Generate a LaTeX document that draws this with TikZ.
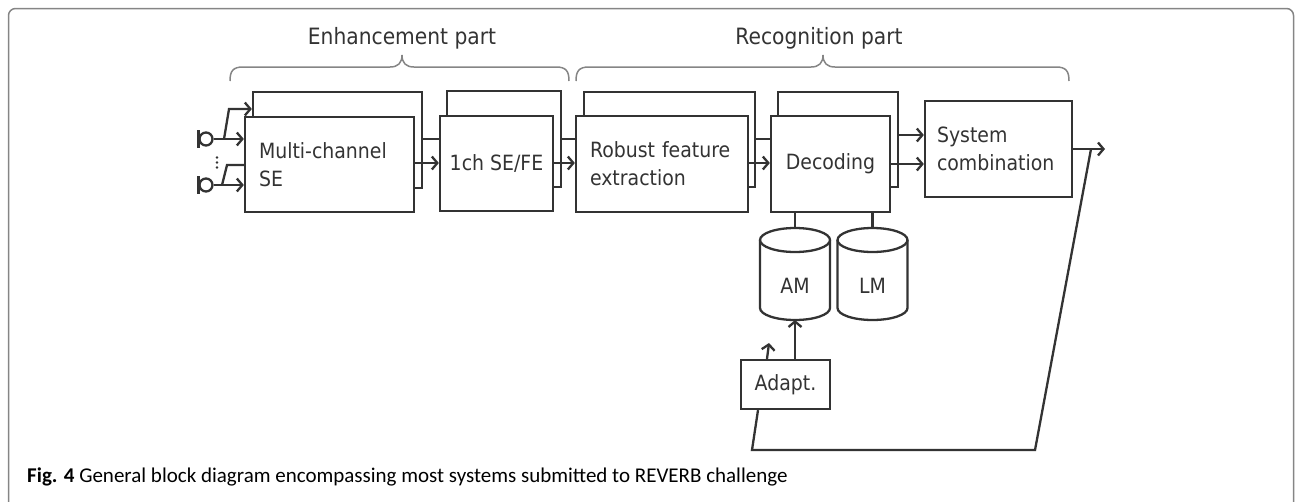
\documentclass[tikz,border=0pt]{standalone}
\usepackage{fontspec}
\setmainfont{Carlito}
\newfontfamily\dvs[FakeStretch=0.9]{DejaVu Sans}
\usetikzlibrary{arrows.meta}
\definecolor{ink}{HTML}{333333}
\definecolor{framegray}{HTML}{858585}
\begin{document}
\begin{tikzpicture}[x=1pt,y=-1pt,
  conn/.style={draw=ink, line width=2.3pt},
  arr/.style={conn, -{Straight Barb[length=5.5pt,width=13pt]}},
  blk/.style={draw=ink, line width=2.3pt, fill=white, rectangle, inner ysep=0pt, inner xsep=14pt,
    font=\dvs\fontsize{21}{28}\selectfont, text=ink},
  lbl/.style={font=\dvs\fontsize{21}{28}\selectfont, text=ink, inner sep=0pt},
  hdr/.style={font=\dvs\fontsize{22.5}{28}\selectfont, text=ink, inner sep=0pt},
  bracepath/.style={draw=framegray, line width=1.5pt},
  micro/.style={circle, draw=ink, line width=2.3pt, minimum size=13pt, inner sep=0pt}]
\useasboundingbox (0,0) rectangle (1295,501);
\clip (0,0) rectangle (1295,501);
% frame
\draw[framegray, line width=1.5pt, rounded corners=7pt] (8.5,520) -- (8.5,8.5) -- (1293.5,8.5) -- (1293.5,520);
% headers and braces
\node[hdr] (enh) at (402,38) {Enhancement part};
\node[hdr] (rec) at (819,38) {Recognition part};
\draw[bracepath] (230,81) .. controls (230,71) and (233,67) .. (243,67) -- (390,67) .. controls (398,67) and (402,63) .. (402,55) .. controls (402,63) and (406,67) .. (414,67) -- (556,67) .. controls (566,67) and (569,71) .. (569,81);
\draw[bracepath] (576,81) .. controls (576,71) and (579,67) .. (589,67) -- (811,67) .. controls (819,67) and (823,63) .. (823,55) .. controls (823,63) and (827,67) .. (835,67) -- (1056,67) .. controls (1066,67) and (1069,71) .. (1069,81);
% blocks
\node[blk, minimum width=169pt, minimum height=96pt] (mcb) at (337.5,140) {};
\node[blk, minimum width=169pt, minimum height=95pt, text width=141pt, align=left] (mc) at (329.5,164.5) {Multi-channel\\SE};
\node[blk, minimum width=114pt, minimum height=96pt] (chb) at (504,139) {};
\node[blk, minimum width=113pt, minimum height=95pt, align=center, inner xsep=4pt] (ch) at (496.5,163.5) {1ch SE/FE};
\node[blk, minimum width=171pt, minimum height=95pt] (robb) at (669.5,139.5) {};
\node[blk, minimum width=172pt, minimum height=96pt, text width=144pt, align=left] (rob) at (662,164) {Robust feature\\extraction};
\node[blk, minimum width=120pt, minimum height=95pt] (decb) at (838,139.5) {};
\node[blk, minimum width=119pt, minimum height=96pt, align=center, inner xsep=4pt] (dec) at (830.5,164) {Decoding};
\node[blk, minimum width=147pt, minimum height=96pt, text width=123pt, inner xsep=12pt, align=left] (sys) at (998.5,149) {System\\combination};
% levels
\coordinate (l1) at (0,139);
\coordinate (l2) at (0,163);
\coordinate (l3) at (0,135);
\coordinate (l4) at (0,164);
\draw[conn] (mcb.east |- l1) -- (ch.west |- l1);
\draw[arr] (mc.east |- l2) -- (ch.west |- l2);
\draw[conn] (chb.east |- l1) -- (rob.west |- l1);
\draw[arr] (ch.east |- l2) -- (rob.west |- l2);
\draw[conn] (robb.east |- l1) -- (dec.west |- l1);
\draw[arr] (rob.east |- l2) -- (dec.west |- l2);
\draw[arr] (decb.east |- l3) -- (sys.west |- l3);
\draw[arr] (dec.east |- l4) -- (sys.west |- l4);
\coordinate (out) at (1105,149);
\draw[arr] (sys.east |- out) -- (out);
% microphones
\node[micro] (mic1) at (206,139) {};
\node[micro] (mic2) at (206,185) {};
\draw[conn] (mic1.west) ++(0,-9) -- ++(0,18);
\draw[conn] (mic2.west) ++(0,-9) -- ++(0,18);
\draw[arr] (mic1.east) -- (mc.west |- mic1.east);
\draw[arr] (mic2.east) -- (mc.west |- mic2.east);
\coordinate (b1) at (224,139);
\coordinate (b1t) at (229,109);
\draw[arr] (b1) -- (b1t) -- (mcb.west |- b1t);
\coordinate (b2) at (222,185);
\coordinate (b2t) at (227,165);
\draw[conn] (b2) -- (b2t) -- (mc.west |- b2t);
\fill[ink] (217,157.5) circle[radius=1.3pt] (217,162.5) circle[radius=1.3pt] (217,167.5) circle[radius=1.3pt];
% AM and LM cylinders
\draw[conn, fill=white] (760,240) -- (760,308) arc[start angle=180, end angle=360, x radius=35pt, y radius=12pt] -- (830,240);
\draw[conn, fill=white] (795,240) ellipse[x radius=35pt, y radius=12pt];
\node[lbl] (am) at (795,286) {AM};
\coordinate (amtop) at (795,228);
\coordinate (ambot) at (795,320);
\draw[conn, fill=white] (837.5,240) -- (837.5,308) arc[start angle=180, end angle=360, x radius=35pt, y radius=12pt] -- (907.5,240);
\draw[conn, fill=white] (872.5,240) ellipse[x radius=35pt, y radius=12pt];
\node[lbl] (lm) at (872.5,286) {LM};
\coordinate (lmtop) at (872.5,228);
\draw[conn] (dec.south -| amtop) -- (amtop);
\draw[conn] (dec.south -| lmtop) -- (lmtop);
% adaptation
\node[blk, minimum width=89pt, minimum height=49pt, align=center, inner xsep=4pt] (adapt) at (785.5,384.5) {Adapt.};
\draw[arr] (adapt.north -| ambot) -- (ambot);
\coordinate (sab) at (767,0);
\coordinate (sa) at (769,343);
\draw[arr] (adapt.north -| sab) -- (sa);
% feedback
\coordinate (fbs) at (758,0);
\coordinate (fb1) at (752,450);
\coordinate (fb2) at (1035,450);
\coordinate (fbtop) at (1091,149);
\draw[conn] (adapt.south -| fbs) -- (fb1) -- (fb2) -- (fbtop);
% caption
\node[anchor=base west, inner sep=0pt, font=\fontsize{21}{24}\selectfont] (cap) at (27,482) {\textbf{Fig. 4} General block diagram encompassing most systems submitted to REVERB challenge};
\end{tikzpicture}
\end{document}
